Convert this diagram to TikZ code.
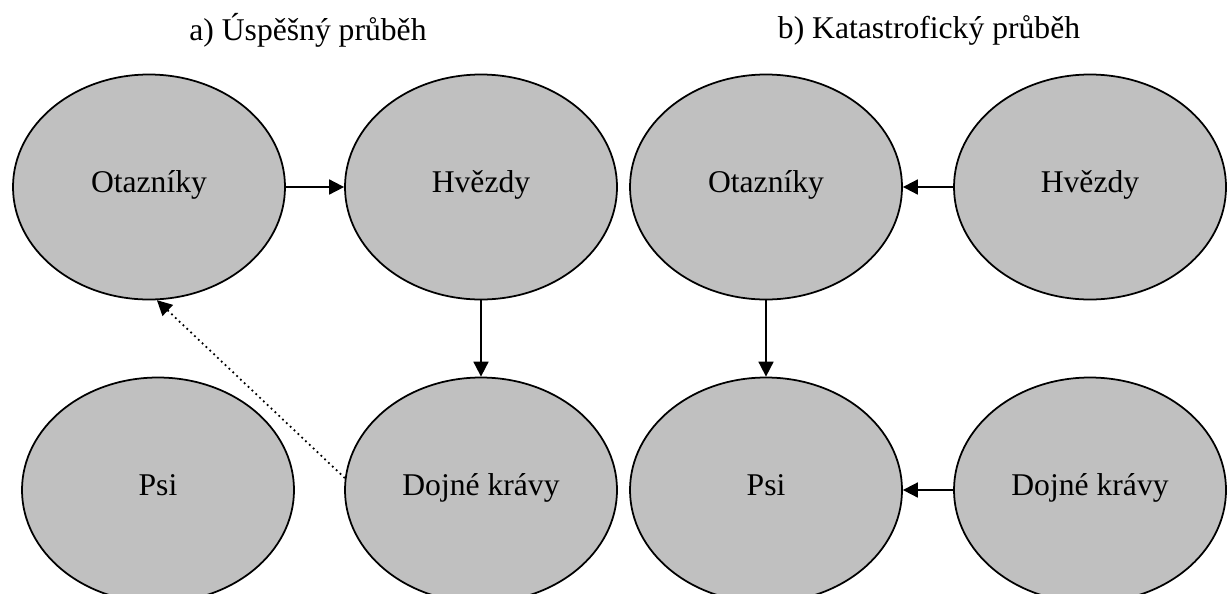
\documentclass[tikz,border=0pt]{standalone}
\usepackage{fontspec}
\setmainfont{Liberation Serif}
\usepackage{tikz}
\usetikzlibrary{arrows.meta, shapes.geometric}
\definecolor{ovalgray}{RGB}{192,192,192}
\tikzset{
  oval/.style={ellipse, draw, line width=1pt, fill=ovalgray, minimum width=5.44cm, minimum height=4.5cm, inner sep=0pt, text height=2ex, text depth=0.6ex},
  flow/.style={line width=1pt, -{Triangle[length=3mm,width=3mm]}},
  title/.style={font=\fontsize{18}{22}\selectfont}
}
\begin{document}
\begin{tikzpicture}[font=\fontsize{18}{22}\selectfont]
      \useasboundingbox (0,0) rectangle (24.54,-11.86);
      \clip (0,0) rectangle (24.54,-11.86);
      % Titles:
      \node[title] (titA) at (6.16,-0.6) {a) Úspěšný průběh};
      \node[title] (titB) at (18.58,-0.6) {b) Katastrofický průběh};
      % a) nodes
      \node[oval] (otazA) at (2.98,-3.74) {Otazníky};
      \node[oval] (hvezA) at (9.62,-3.74) {Hvězdy};
      \node[oval] (psiA) at (3.16,-9.8) {Psi};
      \node[oval] (dojA) at (9.62,-9.8) {Dojné krávy};
      % b) nodes
      \node[oval] (otazB) at (15.32,-3.74) {Otazníky};
      \node[oval] (hvezB) at (21.8,-3.74) {Hvězdy};
      \node[oval] (psiB) at (15.32,-9.8) {Psi};
      \node[oval] (dojB) at (21.8,-9.8) {Dojné krávy};
      % Arrows:
      \draw[flow] (otazA.east) -- (hvezA.west);
      \draw[flow] (hvezA.south) -- (dojA.north);
      \draw[flow, dotted] (dojA.175) -- (otazA.-86);
      \draw[flow] (hvezB.west) -- (otazB.east);
      \draw[flow] (otazB.south) -- (psiB.north);
      \draw[flow] (dojB.west) -- (psiB.east);
    \end{tikzpicture}
\end{document}
